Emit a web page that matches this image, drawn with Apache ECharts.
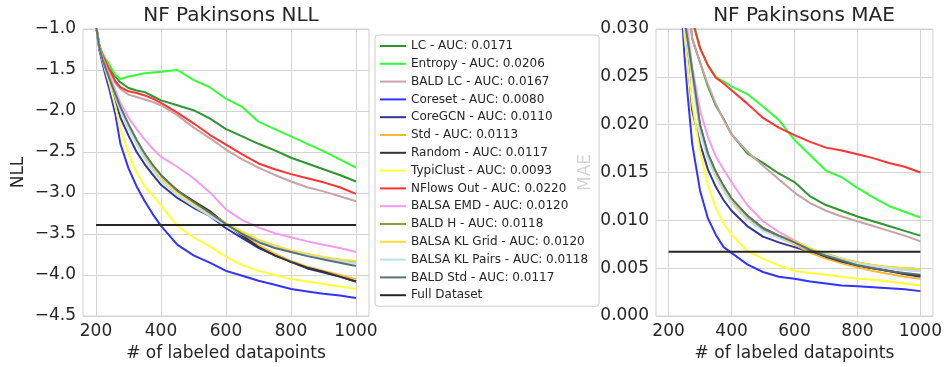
<!DOCTYPE html>
<html>
<head>
<meta charset="utf-8">
<script src="https://cdn.jsdelivr.net/npm/echarts@6/dist/echarts.min.js"></script>
<style>html,body{margin:0;padding:0;background:#fff;}#c{width:945px;height:367px;}</style>
</head>
<body>
<div id="c"></div>
<script>
// ---- data ----
const xs = [200,210,220,230,240,250,260,275,300,325,350,375,400,450,500,550,600,650,700,750,800,850,900,950,1000];
const xTicks = [200,400,600,800,1000];
const seriesNames = ['LC - AUC: 0.0171','Entropy - AUC: 0.0206','BALD LC - AUC: 0.0167','Coreset - AUC: 0.0080','CoreGCN - AUC: 0.0110','Std - AUC: 0.0113','Random - AUC: 0.0117','TypiClust - AUC: 0.0093','NFlows Out - AUC: 0.0220','BALSA EMD - AUC: 0.0120','BALD H - AUC: 0.0118','BALSA KL Grid - AUC: 0.0120','BALSA KL Pairs - AUC: 0.0118','BALD Std - AUC: 0.0117'];
const colors = ['#2f962f','#33ff33','#c9a3a3','#3333ff','#333399','#ffb733','#333333','#ffff33','#ff3333','#f19bf1','#999933','#ffdf33','#bde0eb','#597272'];
const fullName = 'Full Dataset';
const fullNLL = -3.39;
const fullMAE = 0.00672;

// NLL values at xs
const nll_LC      = [-0.95,-1.20,-1.33,-1.42,-1.48,-1.53,-1.58,-1.65,-1.72,-1.75,-1.77,-1.82,-1.87,-1.93,-1.99,-2.09,-2.22,-2.31,-2.40,-2.48,-2.57,-2.64,-2.71,-2.78,-2.86];
const nll_Ent     = [-0.95,-1.20,-1.30,-1.37,-1.42,-1.50,-1.56,-1.61,-1.58,-1.56,-1.54,-1.53,-1.52,-1.50,-1.62,-1.71,-1.85,-1.95,-2.13,-2.22,-2.31,-2.40,-2.49,-2.59,-2.69];
const nll_BLC     = [-0.95,-1.20,-1.32,-1.41,-1.50,-1.58,-1.66,-1.73,-1.80,-1.83,-1.86,-1.89,-1.93,-2.05,-2.20,-2.33,-2.47,-2.59,-2.69,-2.78,-2.86,-2.93,-2.98,-3.04,-3.10];
const nll_Core    = [-0.95,-1.25,-1.42,-1.58,-1.72,-1.88,-2.05,-2.40,-2.70,-2.92,-3.10,-3.26,-3.40,-3.63,-3.76,-3.85,-3.95,-4.01,-4.07,-4.12,-4.17,-4.20,-4.23,-4.25,-4.28];
const nll_GCN     = [-0.95,-1.22,-1.38,-1.50,-1.62,-1.75,-1.88,-2.08,-2.30,-2.50,-2.65,-2.78,-2.90,-3.06,-3.18,-3.28,-3.43,-3.55,-3.67,-3.76,-3.84,-3.92,-3.97,-4.02,-4.08];
const nll_Std     = [-0.95,-1.20,-1.35,-1.47,-1.58,-1.70,-1.82,-1.98,-2.20,-2.39,-2.56,-2.70,-2.82,-2.98,-3.10,-3.22,-3.38,-3.50,-3.64,-3.74,-3.83,-3.90,-3.95,-4.00,-4.05];
const nll_Rand    = [-0.95,-1.20,-1.35,-1.47,-1.58,-1.70,-1.82,-1.98,-2.20,-2.38,-2.55,-2.68,-2.80,-2.97,-3.10,-3.22,-3.38,-3.52,-3.66,-3.76,-3.84,-3.91,-3.96,-4.02,-4.08];
const nll_Typi    = [-0.95,-1.22,-1.38,-1.52,-1.65,-1.80,-1.95,-2.22,-2.52,-2.75,-2.92,-3.03,-3.15,-3.40,-3.54,-3.65,-3.78,-3.88,-3.95,-4.00,-4.05,-4.08,-4.11,-4.14,-4.17];
const nll_NF      = [-0.95,-1.20,-1.32,-1.40,-1.48,-1.56,-1.64,-1.71,-1.76,-1.78,-1.81,-1.85,-1.90,-2.02,-2.15,-2.29,-2.41,-2.53,-2.64,-2.71,-2.77,-2.82,-2.87,-2.93,-3.01];
const nll_EMD     = [-0.95,-1.20,-1.35,-1.45,-1.55,-1.65,-1.75,-1.90,-2.08,-2.22,-2.35,-2.46,-2.56,-2.68,-2.82,-2.99,-3.20,-3.33,-3.42,-3.49,-3.54,-3.59,-3.63,-3.67,-3.72];
const nll_BH      = [-0.95,-1.21,-1.36,-1.48,-1.59,-1.70,-1.81,-1.96,-2.18,-2.37,-2.54,-2.67,-2.81,-2.99,-3.12,-3.25,-3.37,-3.48,-3.58,-3.65,-3.71,-3.75,-3.79,-3.82,-3.84];
const nll_KLG     = [-0.95,-1.21,-1.36,-1.48,-1.59,-1.70,-1.81,-1.97,-2.19,-2.38,-2.55,-2.68,-2.82,-3.00,-3.13,-3.25,-3.37,-3.47,-3.57,-3.64,-3.70,-3.74,-3.78,-3.81,-3.83];
const nll_KLP     = [-0.95,-1.22,-1.37,-1.49,-1.60,-1.72,-1.84,-2.00,-2.22,-2.41,-2.58,-2.72,-2.85,-3.03,-3.16,-3.28,-3.40,-3.50,-3.59,-3.66,-3.72,-3.76,-3.80,-3.83,-3.86];
const nll_BStd    = [-0.95,-1.22,-1.37,-1.48,-1.59,-1.70,-1.80,-1.95,-2.16,-2.35,-2.52,-2.66,-2.78,-2.97,-3.11,-3.24,-3.38,-3.50,-3.60,-3.67,-3.72,-3.77,-3.81,-3.85,-3.89];

// MAE values at xs
const mae_LC      = [0.080,0.070,0.060,0.052,0.045,0.039,0.034,0.0290,0.0265,0.0240,0.0220,0.0206,0.0190,0.0170,0.0160,0.0149,0.0140,0.0125,0.0116,0.0110,0.0104,0.0099,0.0094,0.0089,0.0084];
const mae_Ent     = [0.090,0.080,0.070,0.060,0.050,0.042,0.036,0.0310,0.0280,0.0262,0.0250,0.0245,0.0240,0.0232,0.0219,0.0205,0.0184,0.0168,0.0152,0.0145,0.0134,0.0124,0.0115,0.0109,0.0103];
const mae_BLC     = [0.080,0.070,0.060,0.052,0.045,0.039,0.034,0.0290,0.0265,0.0242,0.0222,0.0205,0.0190,0.0172,0.0157,0.0143,0.0129,0.0118,0.0110,0.0104,0.0099,0.0094,0.0089,0.0084,0.0078];
const mae_Core    = [0.070,0.060,0.050,0.042,0.033,0.0274,0.0233,0.0180,0.0131,0.0102,0.0085,0.0072,0.0066,0.0054,0.0046,0.0041,0.0039,0.0036,0.0034,0.0032,0.0031,0.0030,0.0029,0.0028,0.0026];
const mae_GCN     = [0.070,0.058,0.048,0.040,0.034,0.030,0.027,0.0215,0.0180,0.0153,0.0135,0.0121,0.0110,0.0094,0.0083,0.0077,0.0072,0.0067,0.0062,0.0057,0.0053,0.0050,0.0047,0.0044,0.0041];
const mae_Std     = [0.070,0.060,0.050,0.043,0.036,0.031,0.029,0.0253,0.0196,0.0166,0.0147,0.0133,0.0120,0.0103,0.0090,0.0082,0.0075,0.0066,0.0060,0.0055,0.0051,0.0047,0.0044,0.0041,0.0039];
const mae_Rand    = [0.070,0.060,0.050,0.043,0.036,0.031,0.029,0.0255,0.0198,0.0168,0.0149,0.0134,0.0121,0.0104,0.0091,0.0083,0.0077,0.0069,0.0062,0.0057,0.0053,0.0050,0.0047,0.0044,0.0042];
const mae_Typi    = [0.070,0.060,0.050,0.042,0.034,0.0295,0.0265,0.0222,0.0172,0.0137,0.0113,0.0097,0.0085,0.0068,0.0060,0.0053,0.0047,0.0045,0.0043,0.0041,0.0039,0.0038,0.0036,0.0034,0.0032];
const mae_NF      = [0.090,0.080,0.070,0.060,0.050,0.042,0.036,0.0310,0.0280,0.0262,0.0249,0.0243,0.0236,0.0222,0.0207,0.0197,0.0189,0.0182,0.0176,0.0173,0.0169,0.0165,0.0160,0.0156,0.0150];
const mae_EMD     = [0.070,0.060,0.052,0.045,0.038,0.034,0.030,0.0260,0.0215,0.0187,0.0167,0.0153,0.0140,0.0116,0.0099,0.0088,0.0079,0.0070,0.0064,0.0059,0.0055,0.0052,0.0050,0.0048,0.0047];
const mae_BH      = [0.070,0.060,0.050,0.043,0.036,0.031,0.029,0.0256,0.0199,0.0169,0.0150,0.0135,0.0122,0.0105,0.0092,0.0084,0.0078,0.0070,0.0065,0.0060,0.0056,0.0053,0.0051,0.0050,0.0049];
const mae_KLG     = [0.070,0.060,0.050,0.043,0.036,0.031,0.029,0.0254,0.0197,0.0167,0.0148,0.0134,0.0121,0.0104,0.0092,0.0084,0.0078,0.0071,0.0065,0.0060,0.0056,0.0053,0.0051,0.0050,0.0049];
const mae_KLP     = [0.070,0.060,0.050,0.043,0.036,0.031,0.028,0.0250,0.0193,0.0164,0.0145,0.0131,0.0118,0.0101,0.0089,0.0082,0.0076,0.0069,0.0064,0.0059,0.0055,0.0052,0.0050,0.0048,0.0047];
const mae_BStd    = [0.070,0.060,0.050,0.043,0.036,0.031,0.029,0.0257,0.0200,0.0170,0.0151,0.0136,0.0123,0.0105,0.0092,0.0084,0.0077,0.0069,0.0063,0.0058,0.0053,0.0050,0.0047,0.0045,0.0043];

const nllSets = [nll_LC,nll_Ent,nll_BLC,nll_Core,nll_GCN,nll_Std,nll_Rand,nll_Typi,nll_NF,nll_EMD,nll_BH,nll_KLG,nll_KLP,nll_BStd];
const maeSets = [mae_LC,mae_Ent,mae_BLC,mae_Core,mae_GCN,mae_Std,mae_Rand,mae_Typi,mae_NF,mae_EMD,mae_BH,mae_KLG,mae_KLP,mae_BStd];

// ---- chart ----
const FONT = 'DejaVu Sans';
const TXT = '#262626';
const GRIDC = '#d4d4d4';
const zip = ys => xs.map((x,i)=>[x, ys[i]]);

function xAxis(gi){
  return {
    type:'value', gridIndex:gi, min:160, max:1040,
    name:'# of labeled datapoints', nameLocation:'middle', nameGap:29,
    nameTextStyle:{fontFamily:FONT,fontSize:17,color:TXT},
    axisLine:{show:false}, axisTick:{show:false, customValues:xTicks},
    axisLabel:{customValues:xTicks, formatter:v=>String(v), fontFamily:FONT, fontSize:17, color:TXT, margin:7},
    splitLine:{show:true, lineStyle:{color:GRIDC,width:1}}
  };
}
function yAxis(gi, name, min, max, interval, fmt, gap){
  return {
    type:'value', gridIndex:gi, min:min, max:max, interval:interval,
    name:name, nameLocation:'middle', nameGap:gap, nameRotate:90,
    nameTextStyle:{fontFamily:FONT,fontSize:17,color:TXT},
    axisLine:{show:false}, axisTick:{show:false},
    axisLabel:{formatter:fmt, fontFamily:FONT, fontSize:17, color:TXT, margin:7},
    splitLine:{show:true, lineStyle:{color:GRIDC,width:1}}
  };
}

const series = [];
seriesNames.forEach((n,i)=>{
  series.push({type:'line', name:n, xAxisIndex:0, yAxisIndex:0, data:zip(nllSets[i]), symbol:'none', clip:true,
    lineStyle:{color:colors[i], width:2}, itemStyle:{color:colors[i]}, z:2+i*0.01, animation:false});
});
series.push({type:'line', name:fullName, xAxisIndex:0, yAxisIndex:0, data:[[xs[0],fullNLL],[xs[xs.length-1],fullNLL]], symbol:'none',
  lineStyle:{color:'#262626', width:2}, itemStyle:{color:'#262626'}, z:3, animation:false});
seriesNames.forEach((n,i)=>{
  series.push({type:'line', name:n, xAxisIndex:1, yAxisIndex:1, data:zip(maeSets[i]), symbol:'none', clip:true,
    lineStyle:{color:colors[i], width:2}, itemStyle:{color:colors[i]}, z:2+i*0.01, animation:false});
});
series.push({type:'line', name:fullName, xAxisIndex:1, yAxisIndex:1, data:[[xs[0],fullMAE],[xs[xs.length-1],fullMAE]], symbol:'none',
  lineStyle:{color:'#262626', width:2}, itemStyle:{color:'#262626'}, z:3, animation:false});

const chart = echarts.init(document.getElementById('c'), null, {renderer:'canvas'});
chart.setOption({
  backgroundColor:'#ffffff',
  animation:false,
  textStyle:{fontFamily:FONT},
  title:[
    {text:'NF Pakinsons NLL', left:226, top:1, textAlign:'center', textStyle:{fontFamily:FONT,fontSize:20,fontWeight:'normal',color:TXT}},
    {text:'NF Pakinsons MAE', left:799, top:1, textAlign:'center', textStyle:{fontFamily:FONT,fontSize:20,fontWeight:'normal',color:TXT}}
  ],
  grid:[
    {left:83, top:29, width:286, height:288, show:true, borderColor:'#cfcfcf', borderWidth:1, backgroundColor:'#fff'},
    {left:656, top:29, width:286, height:288, show:true, borderColor:'#cfcfcf', borderWidth:1, backgroundColor:'#fff'}
  ],
  xAxis:[xAxis(0), xAxis(1)],
  yAxis:[
    yAxis(0,'NLL',-4.5,-1.0,0.5, v=>(v<0?'\u2212':'')+Math.abs(v).toFixed(1), 56),
    yAxis(1,'MAE',0,0.03,0.005, v=>v.toFixed(3), 62)
  ],
  legend:{
    orient:'vertical', left:375, top:35, z:10,
    data:seriesNames.concat([fullName]),
    itemWidth:26, itemHeight:14, itemGap:3.8,
    padding:[4,11,4,4],
    itemStyle:{opacity:0},
    lineStyle:{width:2},
    backgroundColor:'rgba(255,255,255,0.8)', borderColor:'#cccccc', borderWidth:1, borderRadius:3,
    textStyle:{fontFamily:FONT, fontSize:12, color:TXT, lineHeight:14},
    selectedMode:false
  },
  series:series
});
</script>
</body>
</html>
